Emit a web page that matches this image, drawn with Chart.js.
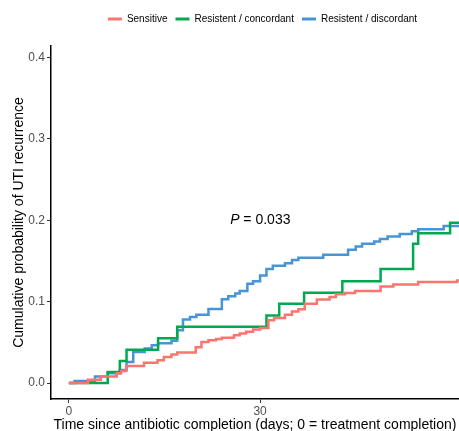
<!DOCTYPE html>
<html>
<head>
<meta charset="utf-8">
<script src="https://cdn.jsdelivr.net/npm/chart.js@4.4.1/dist/chart.umd.min.js"></script>
<style>
  html, body { margin: 0; padding: 0; background: #fff; }
  #wrap { width: 459px; height: 431px; }
</style>
</head>
<body>
<div id="wrap"><canvas id="chart" width="459" height="431"></canvas></div>
<script>
// step curves: day the step happens, cumulative probability after it
const seriesNames = ['Sensitive', 'Resistent / concordant', 'Resistent / discordant'];
const seriesColors = ['#F8766D', '#00A84F', '#4795D6'];

const sensitiveDays = [0, 3, 5, 7.5, 8.2, 9.0, 11.8, 13.9, 14.9, 16.1, 17.0, 19.9, 20.8, 21.9, 23.1, 24.0, 25.9, 26.8, 27.8, 28.9, 30.0, 31.3, 32.2, 33.9, 35.0, 36.0, 37.0, 38.9, 40.9, 41.9, 43.3, 44.9, 48.9, 50.9, 54.8, 60.9, 62];
const sensitiveRisk = [0, 0.004, 0.008, 0.012, 0.0147, 0.021, 0.025, 0.028, 0.032, 0.035, 0.0375, 0.044, 0.0505, 0.0526, 0.054, 0.0555, 0.0587, 0.061, 0.063, 0.0657, 0.0677, 0.077, 0.080, 0.084, 0.088, 0.0906, 0.0975, 0.1025, 0.1056, 0.109, 0.1105, 0.113, 0.1187, 0.121, 0.124, 0.126, 0.126];

const concordantDays = [0, 6.1, 8.0, 9.05, 14.0, 17.0, 31.0, 33.0, 36.9, 42.9, 48.9, 54.0, 54.8, 59.8, 62];
const concordantRisk = [0, 0.0135, 0.027, 0.041, 0.055, 0.069, 0.083, 0.0975, 0.111, 0.125, 0.140, 0.171, 0.184, 0.197, 0.197];

const discordantDays = [0, 0.9, 4.1, 6.1, 8.0, 9.05, 10.1, 11.9, 13.0, 14.0, 16.1, 17.0, 17.9, 19.0, 20.0, 21.9, 24.0, 25.0, 26.1, 26.8, 28.0, 28.9, 30.0, 31.0, 32.0, 33.9, 35.0, 36.0, 39.9, 43.8, 45.0, 46.0, 47.9, 48.8, 50.0, 51.9, 53.8, 54.8, 58.8, 62];
const discordantRisk = [0, 0.0025, 0.008, 0.012, 0.016, 0.026, 0.038, 0.0425, 0.0465, 0.049, 0.052, 0.065, 0.078, 0.081, 0.084, 0.091, 0.103, 0.1065, 0.110, 0.113, 0.122, 0.125, 0.132, 0.140, 0.144, 0.147, 0.151, 0.154, 0.1575, 0.1636, 0.1677, 0.171, 0.174, 0.177, 0.180, 0.183, 0.1865, 0.189, 0.193, 0.193];

const xTicks = [0, 30];
const yTicks = [0, 0.1, 0.2, 0.3, 0.4];
const pLabel = '= 0.033';

const FONT = '"Liberation Sans", Arial, sans-serif';

function toPoints(days, risk) {
    return days.map((d, i) => ({ x: d, y: risk[i] }));
}

const curves = [
    toPoints(sensitiveDays, sensitiveRisk),
    toPoints(concordantDays, concordantRisk),
    toPoints(discordantDays, discordantRisk)
];

// p-value text, placed through the scales
const pValuePlugin = {
    id: 'pValue',
    afterDatasetsDraw(chart) {
        const ctx = chart.ctx;
        const x = chart.scales.x.getPixelForValue(25.3);
        const y = chart.scales.y.getPixelForValue(0.2);
        ctx.save();
        ctx.fillStyle = '#000';
        ctx.textBaseline = 'middle';
        ctx.font = 'italic 14px ' + FONT;
        ctx.fillText('P', x, y);
        const w = ctx.measureText('P ').width;
        ctx.font = '14px ' + FONT;
        ctx.fillText(pLabel, x + w, y);
        ctx.restore();
    }
};

// nudge the legend: a bit right and up, like the ggplot one
const legendShift = {
    id: 'legendShift',
    afterLayout(chart) {
        const lg = chart.legend;
        lg.left += 33; lg.right += 33;
        lg.top -= 12; lg.bottom -= 12;
    }
};

new Chart(document.getElementById('chart'), {
    type: 'line',
    data: {
        datasets: curves.map((pts, i) => ({
            label: seriesNames[i],
            data: pts,
            borderColor: seriesColors[i],
            backgroundColor: seriesColors[i],
            borderWidth: 2.5,
            stepped: 'before',
            pointRadius: 0,
            fill: false
        }))
    },
    options: {
        responsive: false,
        animation: false,
        layout: { padding: { top: 18, right: 0, left: 0, bottom: 0 } },
        plugins: {
            tooltip: { enabled: false },
            legend: {
                position: 'top',
                align: 'center',
                labels: {
                    boxWidth: 14,
                    boxHeight: 3,
                    padding: 8,
                    color: '#1a1a1a',
                    font: { family: FONT, size: 10 },
                    generateLabels(chart) {
                        return chart.data.datasets.map((ds, i) => ({
                            text: ds.label,
                            fillStyle: ds.borderColor,
                            strokeStyle: ds.borderColor,
                            lineWidth: 0,
                            datasetIndex: i
                        }));
                    }
                }
            }
        },
        scales: {
            x: {
                type: 'linear',
                min: -2.8,
                max: 61.2,
                afterBuildTicks: scale => { scale.ticks = xTicks.map(v => ({ value: v })); },
                afterFit: scale => { scale.height = 32; },
                ticks: {
                    color: '#4d4d4d',
                    font: { family: FONT, size: 12 },
                    padding: 1,
                    maxRotation: 0
                },
                grid: { drawOnChartArea: false, drawTicks: true, tickLength: 4, color: '#333' },
                border: { display: true, color: '#000', width: 1.5 },
                title: {
                    display: true,
                    text: 'Time since antibiotic completion (days; 0 = treatment completion)',
                    color: '#000',
                    font: { family: FONT, size: 14 },
                    padding: { top: 0, bottom: -3 }
                }
            },
            y: {
                type: 'linear',
                min: -0.0196,
                max: 0.414,
                afterBuildTicks: scale => { scale.ticks = yTicks.map(v => ({ value: v })); },
                afterFit: scale => { scale.width = 51; },
                ticks: {
                    color: '#4d4d4d',
                    font: { family: FONT, size: 12 },
                    padding: 2,
                    callback: v => v.toFixed(1)
                },
                grid: { drawOnChartArea: false, drawTicks: true, tickLength: 4, color: '#333' },
                border: { display: true, color: '#000', width: 1.5 },
                title: {
                    display: true,
                    text: 'Cumulative probability of UTI recurrence',
                    color: '#000',
                    font: { family: FONT, size: 14 },
                    padding: { top: 11, bottom: 0 }
                }
            }
        }
    },
    plugins: [pValuePlugin, legendShift]
});
</script>
</body>
</html>
